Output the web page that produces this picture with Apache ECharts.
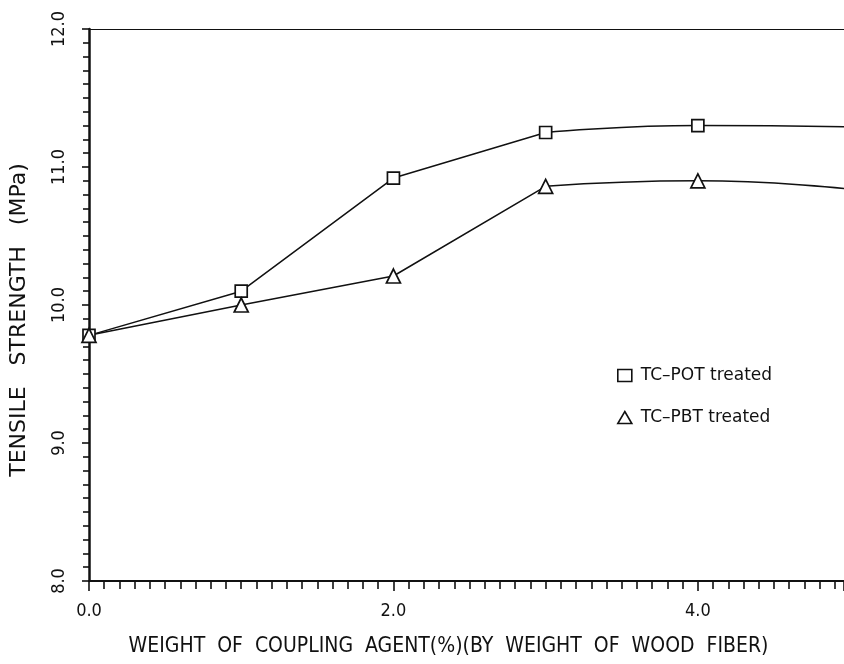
<!DOCTYPE html>
<html>
<head>
<meta charset="utf-8">
<script src="https://cdn.jsdelivr.net/npm/echarts@6/dist/echarts.min.js"></script>
<style>
  html, body { margin: 0; padding: 0; background: #fff; }
  #chart { width: 844px; height: 664px; }
</style>
</head>
<body>
<div id="chart"></div>
<script>
// Coupling agent loading, % by weight of wood fiber
const agentLoading = [0, 1, 2, 3, 4, 5];
// Tensile strength (MPa); the last value is the end of the fitted curve (no marker)
const potStrength = [9.78, 10.10, 10.92, 11.25, 11.30, 11.29];
const pbtStrength = [9.78, 10.00, 10.21, 10.86, 10.90, 10.84];
const seriesNames = ['TC\u2013POT treated', 'TC\u2013PBT treated'];
const xTickValues = [0, 2, 4];
const xTickLabels = ['0.0', '2.0', '4.0'];
const yTickValues = [8, 9, 10, 11, 12];
const yTickLabels = ['8.0', '9.0', '10.0', '11.0', '12.0'];

const FONT = '"DejaVu Sans", "Liberation Sans", sans-serif';
const FONT_NARROW = '"DejaVu Sans Condensed", "DejaVu Sans", sans-serif';
const INK = '#111';

function pairs(ys, from, to) {
  const out = [];
  for (let i = from; i <= to; i++) out.push([agentLoading[i], ys[i]]);
  return out;
}

function labelFor(values, labels) {
  return v => {
    const i = values.findIndex(t => Math.abs(t - v) < 1e-6);
    return i < 0 ? '' : labels[i];
  };
}

// Straight segments through the first four measured points, a smooth curve beyond
function buildSeries(name, ys, symbol, size) {
  const style = { color: '#fff', borderColor: INK, borderWidth: 1.7 };
  return [
    {
      name: name, type: 'line', data: pairs(ys, 0, 3), smooth: false,
      symbol: symbol, symbolSize: size, itemStyle: style,
      lineStyle: { color: INK, width: 1.5 }, z: 3
    },
    {
      name: name, type: 'line', smooth: 0.5, clip: true,
      data: pairs(ys, 3, 5).map((p, k) => ({
        value: p,
        symbol: k === 1 ? symbol : 'none'
      })),
      symbol: symbol, symbolSize: size, itemStyle: style,
      lineStyle: { color: INK, width: 1.5 }, z: 2
    }
  ];
}

const chart = echarts.init(document.getElementById('chart'), null, { renderer: 'canvas' });
chart.setOption({
  backgroundColor: '#fff',
  animation: false,
  grid: { left: 88, top: 29, bottom: 83, right: 0, show: false },
  legend: {
    orient: 'vertical',
    left: 612, top: 362,
    itemGap: 25,
    itemWidth: 14, itemHeight: 12,
    data: [
      { name: seriesNames[0], icon: 'rect', itemStyle: { color: '#fff', borderColor: INK, borderWidth: 1.6 } },
      { name: seriesNames[1], icon: 'triangle', itemStyle: { color: '#fff', borderColor: INK, borderWidth: 1.6 } }
    ],
    textStyle: { fontFamily: FONT, fontSize: 17, color: INK, padding: [0, 0, 0, 4] }
  },
  xAxis: [{
    type: 'value',
    min: 0, max: 4.96, interval: 2,
    name: 'WEIGHT  OF  COUPLING  AGENT(%)(BY  WEIGHT  OF  WOOD  FIBER)',
    nameLocation: 'middle', nameGap: 55,
    nameTextStyle: { fontFamily: FONT_NARROW, fontSize: 21, color: INK, padding: [0, 36, 0, 0] },
    axisLine: { show: true, onZero: false, lineStyle: { color: INK, width: 2 } },
    axisTick: { show: true, inside: false, length: 10, lineStyle: { color: INK, width: 1.6 } },
    minorTick: { show: true, splitNumber: 20, length: 8, lineStyle: { color: INK, width: 1.6 } },
    splitLine: { show: false },
    axisLabel: {
      margin: 21, fontFamily: FONT_NARROW, fontSize: 18, color: INK,
      showMaxLabel: false,
      formatter: labelFor(xTickValues, xTickLabels)
    }
  }, {
    // plain frame line along the top of the plot
    type: 'value', position: 'top',
    min: 0, max: 4.96,
    axisLine: { show: true, onZero: false, lineStyle: { color: INK, width: 1.2 } },
    axisTick: { show: false }, axisLabel: { show: false }, splitLine: { show: false }
  }],
  yAxis: {
    type: 'value',
    min: 8, max: 12, interval: 1,
    name: 'TENSILE   STRENGTH   (MPa)',
    nameLocation: 'middle', nameGap: 59, nameRotate: 90,
    nameTextStyle: { fontFamily: FONT, fontSize: 22, color: INK, padding: [0, 30, 0, 0] },
    axisLine: { show: true, onZero: false, lineStyle: { color: INK, width: 2.5 } },
    axisTick: { show: true, inside: false, length: 7, lineStyle: { color: INK, width: 1.6 } },
    minorTick: { show: true, splitNumber: 10, length: 6, lineStyle: { color: INK, width: 1.6 } },
    splitLine: { show: false },
    axisLabel: {
      rotate: 90, margin: 21, fontFamily: FONT_NARROW, fontSize: 18, color: INK,
      formatter: labelFor(yTickValues, yTickLabels)
    }
  },
  series: [].concat(
    buildSeries(seriesNames[0], potStrength, 'rect', 12),
    buildSeries(seriesNames[1], pbtStrength, 'triangle', 14)
  )
});
</script>
</body>
</html>
